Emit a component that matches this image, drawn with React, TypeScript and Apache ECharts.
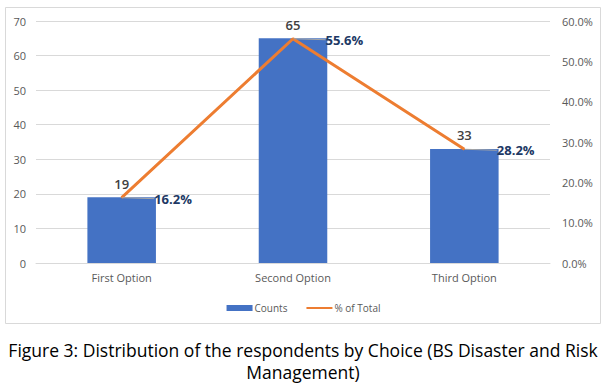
import React, { useEffect, useRef } from "react";
import * as echarts from "echarts";

const categories = ["First Option", "Second Option", "Third Option"];
const counts = [19, 65, 33];
const percentOfTotal = [16.2, 55.6, 28.2];
const seriesNames = ["Counts", "% of Total"];
const captionLines = [
  "Figure 3: Distribution of the respondents by Choice (BS Disaster and Risk",
  "Management)",
];

const FONT = "'Open Sans', 'Noto Sans', sans-serif";

export default function App() {
  const ref = useRef<HTMLDivElement>(null);
  useEffect(() => {
    if (!ref.current) return;
    const chart = echarts.init(ref.current, undefined, { renderer: "svg" });
    chart.setOption({
      animation: false,
      backgroundColor: "#ffffff",
      textStyle: { fontFamily: FONT },
      grid: { left: 36, right: 57, top: 21, bottom: 126, containLabel: false },
      legend: {
        data: [
          { name: seriesNames[0], icon: "rect" },
          { name: seriesNames[1], itemStyle: { opacity: 0 } },
        ],
        top: 298,
        left: "center",
        itemWidth: 26,
        itemHeight: 6,
        itemGap: 18,
        textStyle: { fontSize: 10, color: "#595959", fontFamily: FONT, padding: [0, 0, 0, -3] },
      },
      xAxis: {
        type: "category",
        data: categories,
        axisLine: { lineStyle: { color: "#D9D9D9" } },
        axisTick: { show: false },
        axisLabel: { color: "#595959", fontSize: 11, margin: 9, fontFamily: FONT },
      },
      yAxis: [
        {
          type: "value",
          min: 0,
          max: 70,
          interval: 10,
          axisLine: { show: false },
          axisTick: { show: false },
          splitLine: { lineStyle: { color: "#D9D9D9" } },
          axisLabel: { color: "#595959", fontSize: 11, margin: 10, fontFamily: FONT },
        },
        {
          type: "value",
          min: 0,
          max: 60,
          interval: 10,
          axisLine: { show: false },
          axisTick: { show: false },
          splitLine: { show: false },
          axisLabel: {
            color: "#595959",
            fontSize: 11,
            margin: 12,
            fontFamily: FONT,
            formatter: (v: number) => v.toFixed(1) + "%",
          },
        },
      ],
      series: [
        {
          name: seriesNames[0],
          type: "bar",
          data: counts,
          barWidth: "40%",
          itemStyle: { color: "#4472C4" },
          label: {
            show: true,
            position: "top",
            distance: 7,
            color: "#404040",
            fontWeight: 600,
            fontSize: 13,
            fontFamily: FONT,
          },
        },
        {
          name: seriesNames[1],
          type: "line",
          yAxisIndex: 1,
          data: percentOfTotal,
          symbol: "circle",
          symbolSize: 1,
          showSymbol: true,
          lineStyle: { color: "#ED7D31", width: 3 },
          itemStyle: { color: "#ED7D31" },
          label: {
            show: true,
            position: "right",
            distance: 2,
            color: "#203864",
            fontWeight: "bold",
            fontSize: 13,
            fontFamily: FONT,
            formatter: (p: any) => p.value.toFixed(1) + "%",
          },
          labelLayout: { dx: 30, dy: 1 },
          labelLine: { show: true, lineStyle: { color: "#A6A6A6", width: 1 } },
        },
      ],
      graphic: [
        {
          type: "rect",
          shape: { x: 5.5, y: 7.5, width: 595, height: 316 },
          style: { fill: "none", stroke: "#D9D9D9", lineWidth: 1 },
          silent: true,
          z: -1,
        },
        ...captionLines.map((t, i) => ({
          type: "text",
          x: 303,
          y: 350 + i * 22,
          style: {
            text: t,
            fill: "#000000",
            font: `17.5px ${FONT}`,
            textAlign: "center",
            textVerticalAlign: "middle",
          },
        })),
      ],
    });
    return () => chart.dispose();
  }, []);
  return (
    <div
      ref={ref}
      style={{ position: "absolute", left: 0, top: 0, width: 607, height: 389 }}
    />
  );
}
